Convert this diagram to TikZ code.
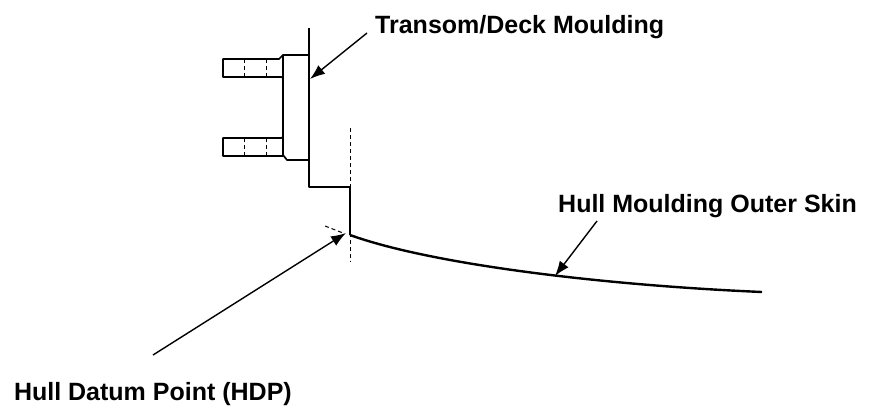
\documentclass[tikz,border=0pt]{standalone}
\usepackage{fontspec}
\setmainfont{Liberation Sans}
\usepackage{tikz}
\usetikzlibrary{arrows.meta}
\tikzset{>={Latex[length=15pt,width=11pt]}}

\begin{document}
\begin{tikzpicture}[x=1pt,y=-1pt]
  \tikzstyle{every node}=[font=\fontsize{25}{30}\selectfont\bfseries, inner sep=0pt]
  \tikzstyle{outline}=[black, line width=1.7pt, line join=round]
  \tikzstyle{hidden}=[black, line width=1pt, dash pattern=on 4pt off 3pt]
  \tikzstyle{leader}=[black, line width=1.4pt, ->]
  \useasboundingbox (0,0) rectangle (893,410);

  % transom face, step and hull skin
  \coordinate (top) at (309,28);
  \coordinate (step) at (309,187);
  \coordinate (stepout) at (350,187);
  \coordinate (hdp) at (350,235);
  \coordinate (skinend) at (762,292);
  \draw[outline] (top) -- (step) -- (stepout) -- (hdp);
  \draw[black, line width=2.4pt] (hdp) .. controls (430,264) and (600,285) .. (skinend);

  % flange plate and lugs
  \draw[outline] (309,55) -- (283,55) -- (283,155) -- (287,160) -- (309,160);
  \draw[outline] (283,55) -- (279,59) -- (223,59) -- (223,77) -- (279,77) .. controls (283,77) .. (283,81);
  \draw[outline] (283,134) .. controls (283,138) .. (279,138) -- (223,138) -- (223,156) -- (283,156);
  \foreach \lx in {244,266} {
    \draw[hidden] (\lx,59) -- (\lx,77);
    \draw[hidden] (\lx,138) -- (\lx,156);
  }

  % datum lines
  \coordinate (dtop) at (350,128);
  \coordinate (dbot) at (350,262);
  \coordinate (dleft) at (325,226);
  \coordinate (dright) at (343,233);
  \draw[hidden] (dtop) -- (dbot);
  \draw[hidden] (dleft) -- (dright);

  % labels
  \node[anchor=base west] (transom) at (375,33) {Transom/Deck Moulding};
  \node[anchor=base west] (skin) at (558,212) {Hull Moulding Outer Skin};
  \node[anchor=base east] (datum) at (292,400) {Hull Datum Point (HDP)};

  \coordinate (tfrom) at (367,33);
  \coordinate (tto) at (310,79);
  \coordinate (sfrom) at (597,221);
  \coordinate (sto) at (555,276);
  \coordinate (hfrom) at (153,355);
  \coordinate (hto) at (346,233);
  \draw[leader] (tfrom) -- (tto);
  \draw[leader] (sfrom) -- (sto);
  \draw[leader] (hfrom) -- (hto);
\end{tikzpicture}
\end{document}
